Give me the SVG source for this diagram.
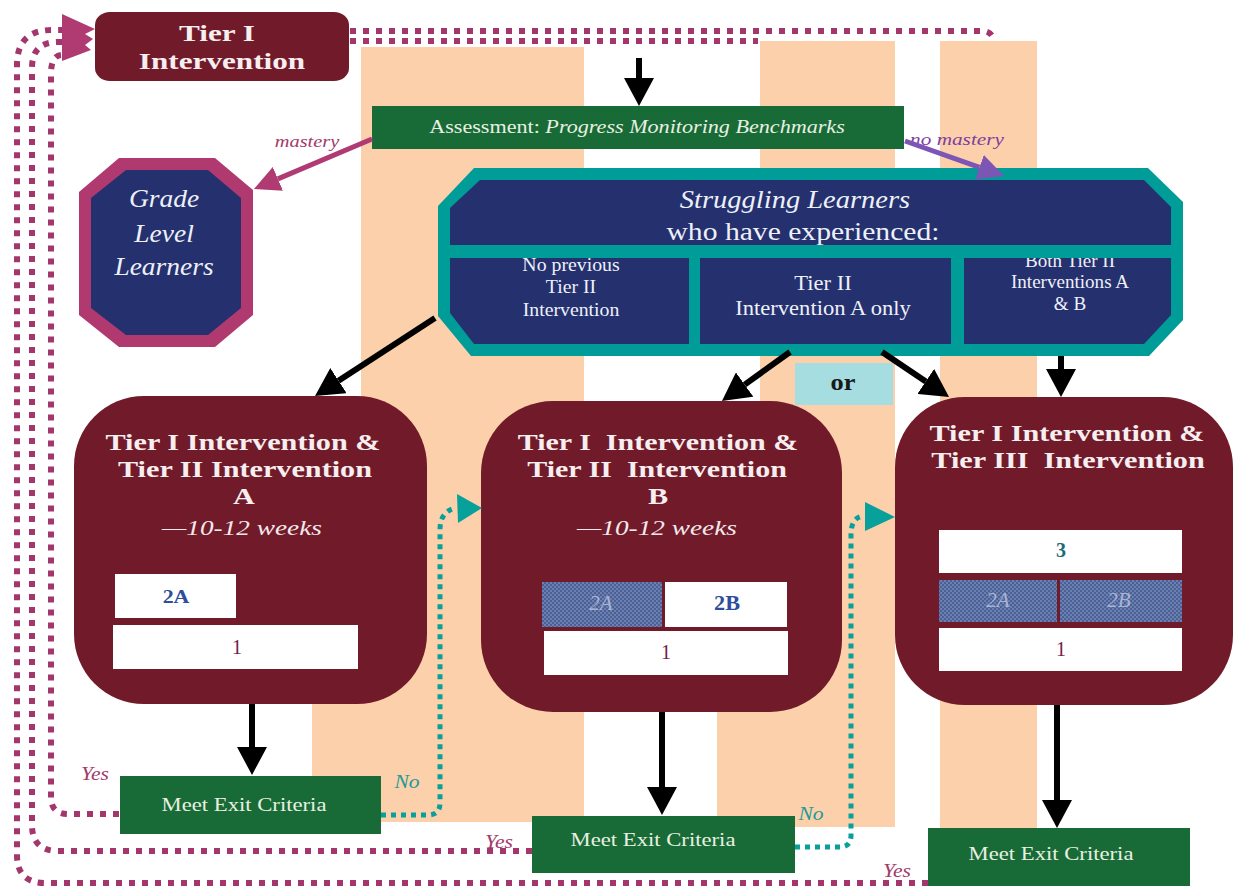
<svg xmlns="http://www.w3.org/2000/svg" width="1235" height="886" viewBox="0 0 1235 886">
<defs>
<style>
.t{font-family:"Liberation Serif","Times New Roman",serif;text-anchor:middle}
.hd{font-size:24px;font-weight:bold;fill:#f7eef0}
.wk{font-size:22px;font-style:italic;fill:#f3e9ec}
.gl{font-size:25px;font-style:italic;fill:#eef0f8}
.cell{fill:#eef0f8}
.exit{font-size:18px;fill:#e9f0e2}
.yes{font-size:18px;font-style:italic;fill:#a33a6b}
.no{font-size:18px;font-style:italic;fill:#1c9b98}
.num{font-size:20px;fill:#742044}
.lab2{font-size:20px;font-weight:bold;fill:#2e4d9c}
.lab2h{font-size:20px;font-style:italic;fill:#a9b4d4}
.mag{fill:none;stroke:#a3376b;stroke-width:6;stroke-dasharray:6 7}
.tdot{fill:none;stroke:#08a09a;stroke-width:5;stroke-dasharray:5 5}
.blk{stroke:#000;stroke-width:6;fill:none}
.tier{fill:#711b2a}
.wbox{fill:#fff}
.hbox{fill:url(#hatch)}
.green{fill:#186b36}
.peach{fill:#fbd0ab}
</style>
<pattern id="hatch" width="4" height="4" patternUnits="userSpaceOnUse">
<rect width="4" height="4" fill="#4b6196"/>
<rect x="0" y="0" width="2" height="2" fill="#6b80b0"/>
<rect x="2" y="2" width="2" height="2" fill="#6b80b0"/>
</pattern>
<marker id="ahB" markerUnits="userSpaceOnUse" markerWidth="28" markerHeight="30" viewBox="0 0 28 30" refX="0" refY="15" orient="auto">
<path d="M0,0 L28,15 L0,30 Z" fill="#000"/>
</marker>
<marker id="ahM" markerUnits="userSpaceOnUse" markerWidth="26" markerHeight="26" viewBox="0 0 26 26" refX="0" refY="13" orient="auto">
<path d="M0,0 L26,13 L0,26 Z" fill="#b03a72"/>
</marker>
<marker id="ahP" markerUnits="userSpaceOnUse" markerWidth="26" markerHeight="26" viewBox="0 0 26 26" refX="0" refY="13" orient="auto">
<path d="M0,0 L26,13 L0,26 Z" fill="#7d55b5"/>
</marker>
<clipPath id="c3clip"><rect x="964" y="258" width="206" height="86"/></clipPath>
</defs>
<rect width="1235" height="886" fill="#fff"/>

<g id="background-columns">
<rect class="peach" x="361" y="47" width="223" height="775"/>
<rect class="peach" x="312" y="600" width="272" height="222"/>
<rect class="peach" x="760" y="41" width="135" height="786"/>
<rect class="peach" x="717" y="600" width="178" height="227"/>
<rect class="peach" x="940" y="41" width="97" height="787"/>
</g>

<g id="tier1-top">
<rect class="tier" x="95" y="12" width="254" height="69" rx="15" ry="13"/>
<text class="t hd" transform="translate(217 41) scale(1.3 1)">Tier I</text>
<text class="t hd" transform="translate(222 69) scale(1.3 1)">Intervention</text>
</g>

<g id="assessment">
<rect class="green" x="372" y="106" width="532" height="43"/>
<text class="t" transform="translate(637 133) scale(1.23 1)" style="font-size:18px;fill:#e9f0e2">Assessment: <tspan font-style="italic">Progress Monitoring Benchmarks</tspan></text>
</g>

<g id="grade-level">
<polygon points="119,158 215,158 253,190 253,315 215,347 119,347 79,315 79,192" fill="#b03a70"/>
<polygon points="126,170 208,170 241,198 241,308 208,335 126,335 91,308 91,198" fill="#25306f"/>
<text class="t gl" transform="translate(164 207) scale(1.1 1)">Grade</text>
<text class="t gl" transform="translate(164 242) scale(1.1 1)">Level</text>
<text class="t gl" transform="translate(164 275) scale(1.1 1)">Learners</text>
</g>

<g id="struggling">
<polygon points="474,168 1148,168 1183,202 1183,320 1149,356 471,356 438,316 438,206" fill="#009c98"/>
<polygon points="480,180 1144,180 1171,207 1171,315 1144,344 474,344 450,313 450,208" fill="#25306f"/>
<rect x="440" y="245" width="742" height="13" fill="#009c98"/>
<rect x="689" y="256" width="11" height="90" fill="#009c98"/>
<rect x="951" y="256" width="13" height="90" fill="#009c98"/>
<text class="t cell" transform="translate(795 208) scale(1.14 1)" style="font-size:25px;font-style:italic">Struggling Learners</text>
<text class="t cell" transform="translate(803 240) scale(1.14 1)" style="font-size:26px">who have experienced:</text>
<text class="t cell" transform="translate(571 271) scale(1.1 1)" style="font-size:18px">No previous</text>
<text class="t cell" transform="translate(571 293) scale(1.1 1)" style="font-size:18px">Tier II</text>
<text class="t cell" transform="translate(571 316) scale(1.1 1)" style="font-size:18px">Intervention</text>
<text class="t cell" transform="translate(823 290) scale(1.13 1)" style="font-size:20px">Tier II</text>
<text class="t cell" transform="translate(823 315) scale(1.13 1)" style="font-size:20px">Intervention A only</text>
<g clip-path="url(#c3clip)">
<text class="t cell" transform="translate(1070 267) scale(1.06 1)" style="font-size:18px">Both Tier II</text>
</g>
<text class="t cell" transform="translate(1070 288) scale(1.06 1)" style="font-size:18px">Interventions A</text>
<text class="t cell" transform="translate(1070 310) scale(1.06 1)" style="font-size:18px">&amp; B</text>
</g>

<g id="or-label">
<rect x="795" y="363" width="98" height="42" fill="#a6dde1"/>
<text class="t" transform="translate(843 390) scale(1.1 1)" style="font-size:24px;font-weight:bold;fill:#1a1a1a">or</text>
</g>

<g id="tier-a">
<rect class="tier" x="74" y="396" width="353" height="308" rx="70" ry="70"/>
<text class="t hd" transform="translate(243 450) scale(1.26 1)">Tier I Intervention &amp;</text>
<text class="t hd" transform="translate(245 477) scale(1.26 1)">Tier II Intervention</text>
<text class="t hd" transform="translate(244 504) scale(1.26 1)">A</text>
<text class="t wk" transform="translate(242 535) scale(1.24 1)">—10-12 weeks</text>
<rect class="wbox" x="115" y="574" width="121" height="44"/>
<text class="t lab2" transform="translate(176 603) scale(1.15 1)" style="font-size:19px">2A</text>
<rect class="wbox" x="113" y="625" width="245" height="44"/>
<text class="t num" x="237" y="654">1</text>
</g>

<g id="tier-b">
<rect class="tier" x="481" y="401" width="361" height="311" rx="72" ry="72"/>
<text class="t hd" transform="translate(658 450) scale(1.25 1)">Tier I&#160; Intervention &amp;</text>
<text class="t hd" transform="translate(657 477) scale(1.25 1)">Tier II&#160; Intervention</text>
<text class="t hd" transform="translate(658 504) scale(1.26 1)">B</text>
<text class="t wk" transform="translate(657 535) scale(1.24 1)">—10-12 weeks</text>
<rect class="hbox" x="542" y="582" width="120" height="45"/>
<text class="t lab2h" transform="translate(601 610) scale(1.05 1)">2A</text>
<rect class="wbox" x="665" y="582" width="122" height="45"/>
<text class="t lab2" transform="translate(727 610) scale(1.06 1)" style="font-size:21px">2B</text>
<rect class="wbox" x="544" y="631" width="244" height="44"/>
<text class="t num" x="666" y="659">1</text>
</g>

<g id="tier-c">
<rect class="tier" x="895" y="397" width="338" height="308" rx="70" ry="70"/>
<text class="t hd" transform="translate(1067 441) scale(1.26 1)">Tier I Intervention &amp;</text>
<text class="t hd" transform="translate(1068 468) scale(1.26 1)">Tier III&#160; Intervention</text>
<rect class="wbox" x="939" y="530" width="243" height="43"/>
<text class="t" transform="translate(1061 557)" style="font-size:20px;font-weight:bold;fill:#1b6b78">3</text>
<rect class="hbox" x="939" y="580" width="118" height="42"/>
<rect class="hbox" x="1060" y="580" width="122" height="42"/>
<text class="t lab2h" transform="translate(998 607) scale(1.05 1)">2A</text>
<text class="t lab2h" transform="translate(1119 607) scale(1.05 1)">2B</text>
<rect class="wbox" x="939" y="628" width="243" height="43"/>
<text class="t num" x="1061" y="656">1</text>
</g>

<g id="exit-1">
<rect class="green" x="120" y="776" width="261" height="58"/>
<text class="t exit" transform="translate(244 811) scale(1.26 1)">Meet Exit Criteria</text>
</g>
<g id="exit-2">
<rect class="green" x="532" y="816" width="263" height="57"/>
<text class="t exit" transform="translate(653 846) scale(1.26 1)">Meet Exit Criteria</text>
</g>
<g id="exit-3">
<rect class="green" x="928" y="828" width="262" height="58"/>
<text class="t exit" transform="translate(1051 860) scale(1.26 1)">Meet Exit Criteria</text>
</g>

<g id="connectors">
<text class="t" transform="translate(307 147) scale(1.2 1)" style="font-size:17px;font-style:italic;fill:#a33a6b">mastery</text>
<text class="t" transform="translate(957 145) scale(1.25 1)" style="font-size:17px;font-style:italic;fill:#7d3fa0">no mastery</text>
<text class="t yes" transform="translate(95 780) scale(1.2 1)">Yes</text>
<text class="t yes" transform="translate(499 848) scale(1.2 1)">Yes</text>
<text class="t yes" transform="translate(897 877) scale(1.2 1)">Yes</text>
<text class="t no" transform="translate(407 788) scale(1.2 1)">No</text>
<text class="t no" transform="translate(811 820) scale(1.2 1)">No</text>

<path class="mag" d="M350,31 H982 Q992,31 994,41"/>
<path class="mag" d="M350,41 H758"/>
<path class="mag" d="M928,883 H45 Q17,883 17,855 V65 Q17,30 52,30 H62"/>
<path class="mag" d="M532,851 H58 Q32,851 32,825 V68 Q32,42 58,42 H62"/>
<path class="mag" d="M119,814 H68 Q51,814 51,797 V74 Q51,55 62,55"/>
<polygon points="62,14 95,29 85,34 93,39 85,45 91,50 62,61" fill="#b03a72"/>

<path class="tdot" d="M381,815 H428 Q440,815 440,803 V530 Q440,512 455,508"/>
<polygon points="457,494 482,508 458,523" fill="#08a09a"/>
<path class="tdot" d="M795,847 H840 Q851,847 851,835 V535 Q851,517 864,516"/>
<polygon points="865,502 895,517 865,531" fill="#08a09a"/>

<path class="blk" d="M639,58 V78" marker-end="url(#ahB)"/>
<path class="blk" d="M435,318 L338.5,380.7" marker-end="url(#ahB)"/>
<path class="blk" d="M790,352 L744.7,384.6" marker-end="url(#ahB)"/>
<path class="blk" d="M882,352 L925.8,381.4" marker-end="url(#ahB)"/>
<path class="blk" d="M1061,356 V369" marker-end="url(#ahB)"/>
<path class="blk" d="M252,704 V747" marker-end="url(#ahB)"/>
<path class="blk" d="M662,712 V787" marker-end="url(#ahB)"/>
<path class="blk" d="M1057,705 V800" marker-end="url(#ahB)"/>

<path d="M372,139 L277.9,178.9" stroke="#b03a72" stroke-width="5" fill="none" marker-end="url(#ahM)"/>
<path d="M905,141 L979.5,167.3" stroke="#7d55b5" stroke-width="5" fill="none" marker-end="url(#ahP)"/>
</g>
</svg>
